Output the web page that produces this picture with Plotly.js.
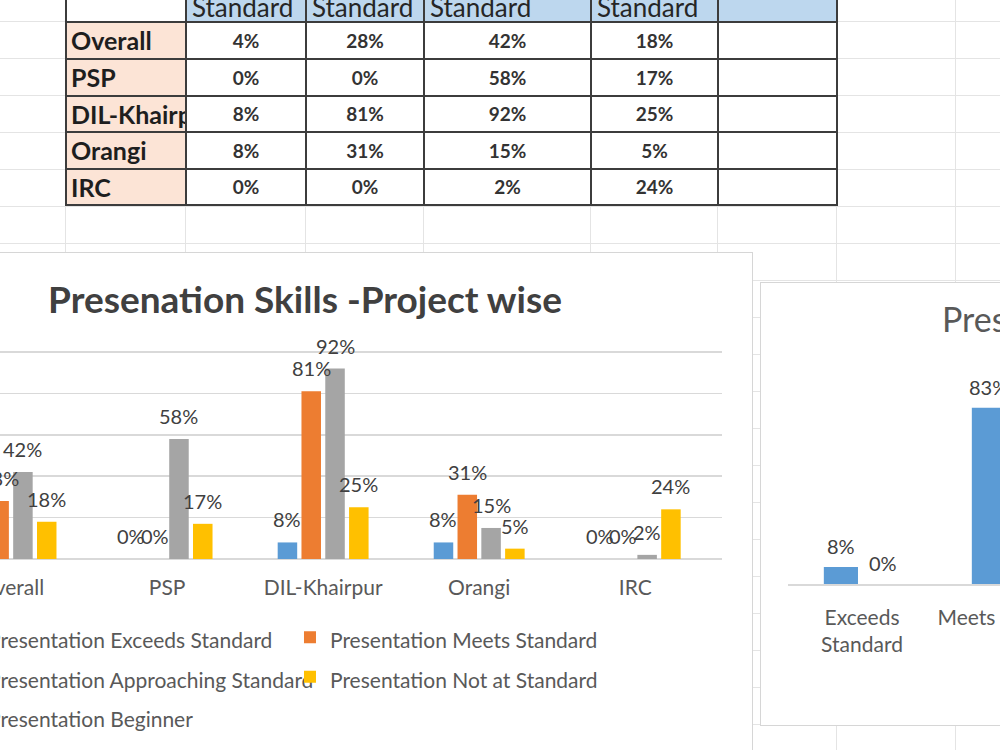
<!DOCTYPE html>
<html>
<head>
<meta charset="utf-8">
<script src="https://cdn.plot.ly/plotly-3.0.1.min.js"></script>
<style>
  html, body { margin:0; padding:0; background:#fff; width:1000px; height:750px; overflow:hidden; font-family:Lato, "Open Sans", sans-serif; }
  #sheet { position:absolute; left:0; top:0; width:1000px; height:750px; overflow:hidden; }
  .gl { position:absolute; background:#e4e4e4; }
  .cell { position:absolute; box-sizing:border-box; overflow:hidden; white-space:nowrap; }
  .box { position:absolute; border:1px solid #d6d6d6; background:#fff; }
</style>
</head>
<body>
<div id="sheet">
  <div class="box" style="left:-143px; top:252px;"><div id="chart1" style="width:894px;height:520px;"></div></div>
  <div class="box" style="left:760px; top:282px;"><div id="chart2" style="width:800px;height:442px;"></div></div>
</div>
<script>
// ---------------- data ----------------
const projects    = ["Overall", "PSP", "DIL-Khairpur", "Orangi", "IRC"];
const levels      = ["Exceeds Standard", "Meets Standard", "Approaching Standard", "Not at Standard", "Beginner"];
const exceeds     = [4, 0, 8, 8, 0];
const meets       = [28, 0, 81, 31, 0];
const approaching = [42, 58, 92, 15, 2];
const notAt       = [18, 17, 25, 5, 24];
const beginner    = [null, null, null, null, null];
const yTickVals   = [0, 20, 40, 60, 80, 100];
const chartTitle  = "Presenation Skills -Project wise";

// second (partly visible) chart
const overallCats    = ["Exceeds Standard", "Meets Standard"];
const overallTicks   = ["Exceeds<br>Standard", "Meets Standard"];
const overallSeries1 = [8, 83];
const overallSeries2 = [0, null];
const overallTitle   = "Presentation Skills - Overall";

// ---------------- styles ----------------
const colors = ["#5B9BD5", "#ED7D31", "#A5A5A5", "#FFC000", "#4472C4"];
const FONT = "Lato, 'Open Sans', sans-serif";
const sheet = document.getElementById('sheet');

// spreadsheet grid lines (behind everything)
const colEdges = [65, 185, 305, 423, 590, 717, 836, 955];
colEdges.forEach(x => {
  const d = document.createElement('div'); d.className = 'gl';
  d.style.cssText = `left:${x}px;top:0;width:1px;height:750px;`;
  sheet.insertBefore(d, sheet.firstChild);
});
for (let y = 21; y < 750; y += 37) {
  const d = document.createElement('div'); d.className = 'gl';
  d.style.cssText = `left:0;top:${y}px;width:1000px;height:1px;`;
  sheet.insertBefore(d, sheet.firstChild);
}

// ---------------- data table ----------------
const tableCols = [65, 185, 305, 423, 590, 717, 836];
const rowEdges  = [21, 58, 95, 131, 168, 204];
const tableVals = [exceeds, meets, approaching, notAt, beginner];
const border = '2px solid #3c3c3c';
function addCell(x0, x1, y0, y1, html, css) {
  const d = document.createElement('div'); d.className = 'cell';
  d.style.cssText = `left:${x0}px;top:${y0}px;width:${x1 - x0 + 2}px;height:${y1 - y0 + 2}px;border:${border};` + css;
  d.innerHTML = html;
  sheet.insertBefore(d, document.querySelector('.box'));
}
// header row
addCell(tableCols[0], tableCols[1], -64, rowEdges[0], '', 'background:#fff;');
levels.forEach((lvl, j) => {
  const lines = ['Presentation'].concat(lvl.includes(' Standard') ? [lvl.replace(' Standard', ''), 'Standard'] : [lvl]);
  addCell(tableCols[j + 1], tableCols[j + 2], -64, rowEdges[0], lines.join('<br>'),
    `background:#BDD7EE;font-size:26px;line-height:27px;padding:2px 5px;color:#262626;`);
});
// body rows
projects.forEach((p, i) => {
  const y0 = rowEdges[i], y1 = rowEdges[i + 1];
  addCell(tableCols[0], tableCols[1], y0, y1, p,
    `background:#FCE4D6;font-size:25px;font-weight:bold;line-height:${y1 - y0 - 2}px;padding-left:4px;color:#1e1e1e;`);
  tableVals.forEach((arr, j) => {
    const v = arr[i];
    addCell(tableCols[j + 1], tableCols[j + 2], y0, y1, v === null ? '' : v + '%',
      `background:#fff;text-align:center;font-size:19px;font-weight:bold;line-height:${y1 - y0 - 2}px;color:#333;`);
  });
});

// ---------------- main chart ----------------
const series = [exceeds, meets, approaching, notAt];
const bargap = 0.39, bargroupgap = 0.18;
const slot = (1 - bargap) / series.length;
const traces = series.map((vals, s) => ({
  type: 'bar', x: projects, y: vals,
  name: `<span style="font-size:21px">Presentation ${levels[s]}</span>`,
  marker: { color: colors[s] }, hoverinfo: 'skip'
}));
traces.push({
  type: 'scatter', mode: 'markers', x: projects, y: beginner,
  name: `<span style="font-size:21px">Presentation ${levels[4]}</span>`,
  marker: { color: colors[4], symbol: 'square', size: 11 }, hoverinfo: 'skip'
});
const annotations = [];
series.forEach((vals, s) => vals.forEach((v, i) => {
  if (v === null) return;
  annotations.push({
    x: i + (s - (series.length - 1) / 2) * slot, y: v, xref: 'x', yref: 'y',
    text: v + '%', showarrow: false, yshift: 23,
    font: { family: FONT, size: 20, color: '#404040' }
  });
}));

const layout1 = {
  width: 894, height: 520,
  margin: { l: 75, r: 30, t: 98, b: 214 },
  paper_bgcolor: '#fff', plot_bgcolor: '#fff',
  title: { text: chartTitle, x: 0.5, xref: 'container', xanchor: 'center', y: 1 - 47 / 520, yref: 'container', yanchor: 'middle',
           font: { family: FONT, size: 37, weight: 'bold', color: '#404040' } },
  barmode: 'group', bargap: bargap, bargroupgap: bargroupgap,
  xaxis: { type: 'category', range: [-0.5, 4.556], showgrid: false, showline: false, zeroline: false,
           ticks: '', ticklabelstandoff: 14, tickfont: { family: FONT, size: 21, color: '#595959' } },
  yaxis: { range: [0, 100.5], tickvals: yTickVals, ticksuffix: '%', showgrid: true, gridcolor: '#D9D9D9', gridwidth: 1.5,
           zeroline: true, zerolinecolor: '#D9D9D9', zerolinewidth: 1.5, showline: false,
           tickfont: { family: FONT, size: 21, color: '#595959' } },
  showlegend: true,
  legend: { orientation: 'h', x: 0.019, xanchor: 'left', y: -0.258, yanchor: 'top', entrywidth: 297, entrywidthmode: 'pixels',
            traceorder: 'normal', font: { family: FONT, size: 28, color: '#595959' }, bgcolor: 'rgba(0,0,0,0)' },
  annotations: annotations
};
Plotly.newPlot('chart1', traces, layout1, { displayModeBar: false, staticPlot: true });

// ---------------- second chart (cropped) ----------------
const bargap2 = 0.43, bargroupgap2 = 0.19;
const slot2 = (1 - bargap2) / 2;
const traces2 = [
  { type: 'bar', x: overallCats, y: overallSeries1, name: 'Series 1', marker: { color: colors[0] }, hoverinfo: 'skip' },
  { type: 'bar', x: overallCats, y: overallSeries2, name: 'Series 2', marker: { color: colors[1] }, hoverinfo: 'skip' }
];
const ann2 = [];
[overallSeries1, overallSeries2].forEach((vals, s) => vals.forEach((v, i) => {
  if (v === null) return;
  ann2.push({ x: i + (s - 0.5) * slot2, y: v, xref: 'x', yref: 'y', text: v + '%', showarrow: false, yshift: 21,
              font: { family: FONT, size: 20, color: '#404040' } });
}));
const layout2 = {
  width: 800, height: 442,
  margin: { l: 27, r: 33, t: 110, b: 141 },
  paper_bgcolor: '#fff', plot_bgcolor: '#fff', showlegend: false,
  title: { text: overallTitle, x: 181 / 800, xref: 'container', xanchor: 'left', y: 1 - 37 / 442, yref: 'container', yanchor: 'middle',
           font: { family: FONT, size: 34, color: '#595959' } },
  barmode: 'group', bargap: bargap2, bargroupgap: bargroupgap2,
  xaxis: { type: 'category', range: [-0.5, 4.5], tickvals: overallCats, ticktext: overallTicks, showgrid: false,
           showline: true, linecolor: '#D9D9D9', linewidth: 1.5, zeroline: false, ticks: '', ticklabelstandoff: 14,
           tickfont: { family: FONT, size: 21, color: '#595959' } },
  yaxis: { range: [0, 90], visible: false },
  annotations: ann2
};
Plotly.newPlot('chart2', traces2, layout2, { displayModeBar: false, staticPlot: true });
</script>
</body>
</html>
